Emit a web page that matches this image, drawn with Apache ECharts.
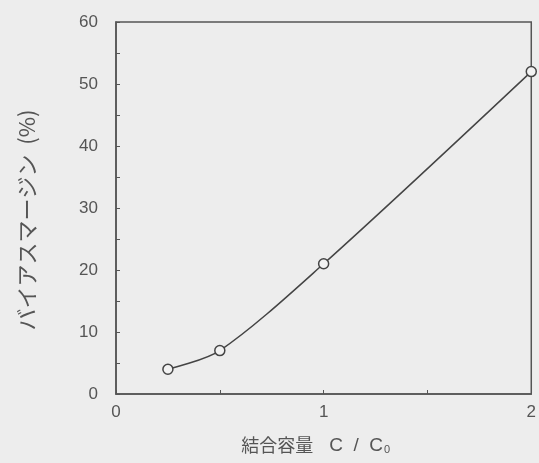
<!DOCTYPE html>
<html>
<head>
<meta charset="utf-8">
<script src="https://cdn.jsdelivr.net/npm/echarts@6/dist/echarts.min.js"></script>
<style>
  html, body { margin: 0; padding: 0; background: #ededed; }
  #chart { width: 539px; height: 463px; }
</style>
</head>
<body>
<div id="chart"></div>
<script>
// Coupling capacitance ratio C/C0 vs. bias margin (%)
const couplingRatio = [0.25, 0.5, 1, 2];
const biasMargin = [4, 7, 21, 52];

const xTicks = [0, 1, 2];
const yTicks = [0, 10, 20, 30, 40, 50, 60];

const ink = '#555555';
const labelFont = 'Liberation Sans, Arial, sans-serif';
const cjkFont = '"Noto Sans CJK JP", sans-serif';

const chart = echarts.init(document.getElementById('chart'), null, { renderer: 'canvas' });

chart.setOption({
  backgroundColor: '#ededed',
  animation: false,
  grid: {
    left: 116, top: 22, right: 6, bottom: 69,
    show: true, borderColor: ink, borderWidth: 1.5, backgroundColor: 'transparent'
  },
  xAxis: {
    type: 'value',
    min: xTicks[0], max: xTicks[xTicks.length - 1], interval: 1,
    axisLine: { show: true, lineStyle: { color: ink, width: 1.5 } },
    axisTick: { show: true, inside: true, length: 4, lineStyle: { color: ink } },
    minorTick: { show: true, splitNumber: 2, length: 4, lineStyle: { color: ink } },
    splitLine: { show: false },
    axisLabel: { color: ink, fontSize: 17, fontFamily: labelFont, margin: 10 },
    name: '{t|結合容量}{g|}{c|C  /  C}{s|0}',
    nameLocation: 'middle',
    nameGap: 42,
    nameTextStyle: {
      padding: [0, 16, 0, 0],
      rich: {
        t: { color: ink, fontSize: 18, fontFamily: cjkFont },
        g: { width: 16 },
        c: { color: ink, fontSize: 19, fontFamily: labelFont },
        s: { color: ink, fontSize: 11, fontFamily: labelFont, verticalAlign: 'bottom', padding: [7, 0, 0, 1] }
      }
    }
  },
  yAxis: {
    type: 'value',
    min: yTicks[0], max: yTicks[yTicks.length - 1], interval: 10,
    axisLine: { show: true, lineStyle: { color: ink, width: 1.5 } },
    axisTick: { show: true, inside: true, length: 4, lineStyle: { color: ink } },
    minorTick: { show: true, splitNumber: 2, length: 4, lineStyle: { color: ink } },
    splitLine: { show: false },
    axisLabel: { color: ink, fontSize: 17, fontFamily: labelFont, margin: 18 },
    name: 'バイアスマージン  (%)',
    nameLocation: 'middle',
    nameRotate: 90,
    nameGap: 78,
    nameTextStyle: { color: ink, fontSize: 22, fontFamily: cjkFont, padding: [0, 24, 0, 0] }
  },
  series: [{
    type: 'line',
    data: couplingRatio.map((c, i) => [c, biasMargin[i]]),
    smooth: 0.3,
    symbol: 'circle',
    symbolSize: 10,
    showAllSymbol: true,
    lineStyle: { color: '#444', width: 1.5 },
    itemStyle: { color: '#f2f2f2', borderColor: '#444', borderWidth: 1.5 },
    clip: false,
    z: 5
  }]
});
</script>
</body>
</html>
